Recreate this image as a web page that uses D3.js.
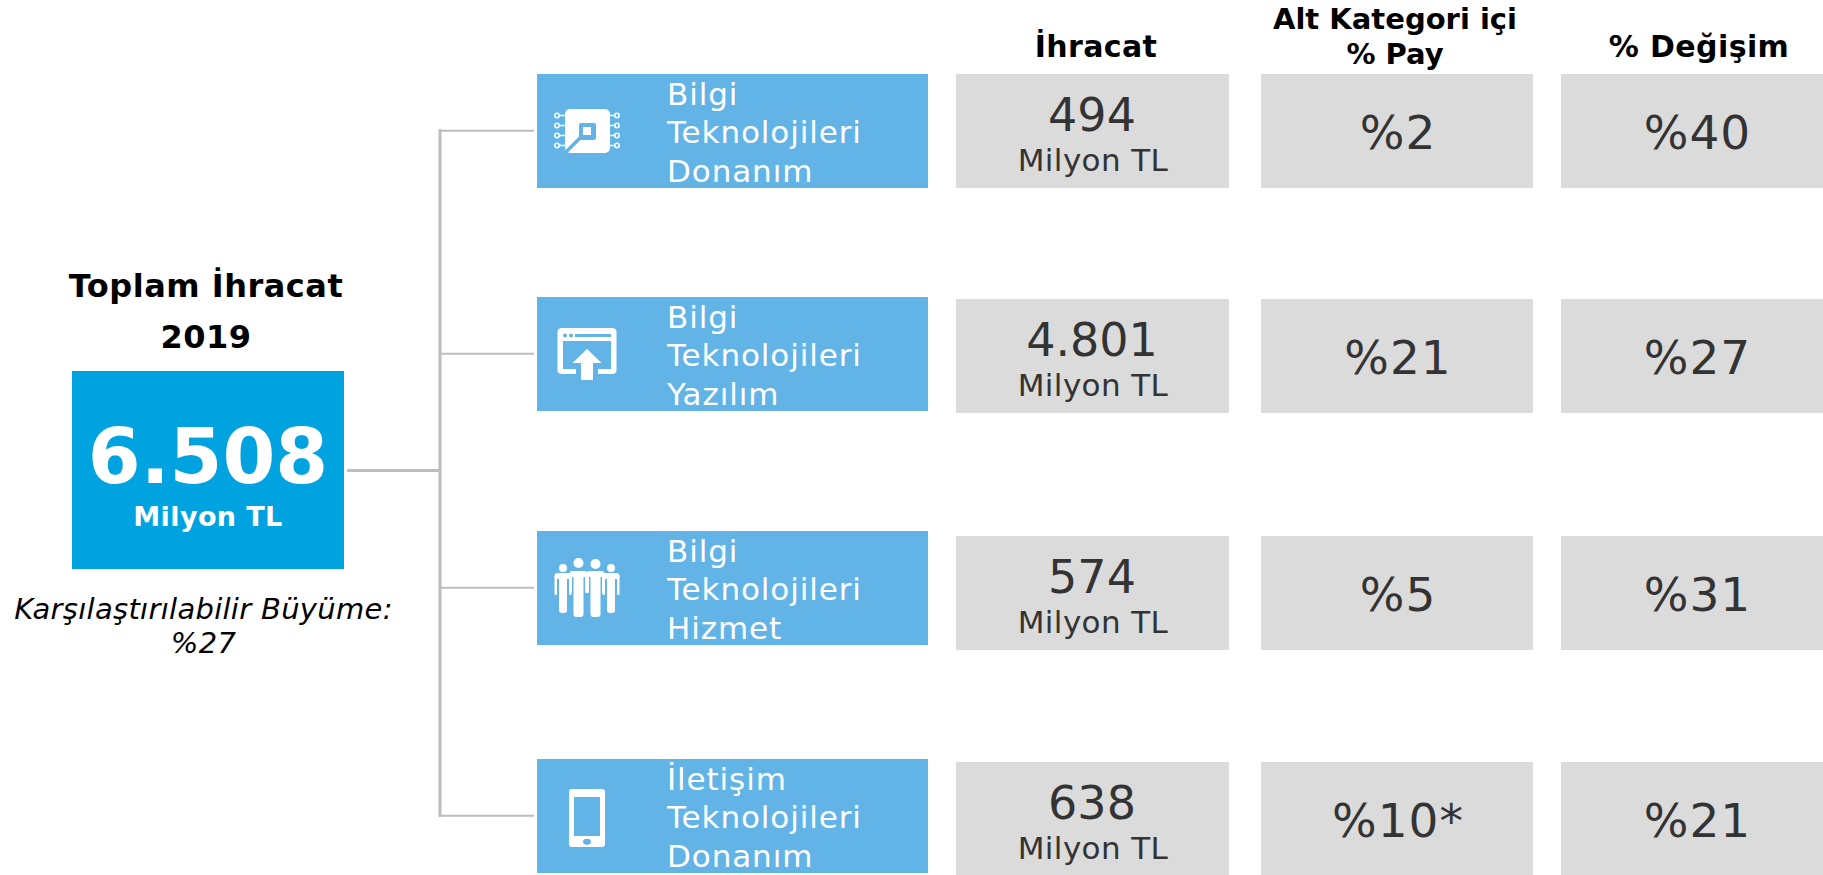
<!DOCTYPE html>
<html>
<head>
<meta charset="utf-8">
<script src="https://cdn.jsdelivr.net/npm/d3@7"></script>
<style>
  html, body { margin: 0; padding: 0; background: #fff; }
  svg { display: block; }
  text { font-family: "DejaVu Sans", sans-serif; }
</style>
</head>
<body>
<svg id="chart" width="1823" height="875"></svg>
<script>
// Values
var categories = [
  ["Bilgi", "Teknolojileri", "Donanım"],
  ["Bilgi", "Teknolojileri", "Yazılım"],
  ["Bilgi", "Teknolojileri", "Hizmet"],
  ["İletişim", "Teknolojileri", "Donanım"]
];
var exportValues = [494, 4801, 574, 638];
var shares = [2, 21, 5, 10];
var shareNotes = ["", "", "", "*"];
var changes = [40, 27, 31, 21];
var columnTitles = [["İhracat"], ["Alt Kategori içi", "% Pay"], ["% Değişim"]];
var icons = ["chip", "upload", "people", "phone"];

var totalValue = 6508;
var totalTitle = ["Toplam İhracat", "2019"];
var unit = "Milyon TL";
var growthNote = ["Karşılaştırılabilir Büyüme:", "%27"];

var trFormat = d3.formatLocale({ decimal: ",", thousands: ".", grouping: [3], currency: ["", " TL"] }).format(",d");

// Placement
var catX = 537, catW = 391, catH = 114,
  grayX = [956, 1261, 1561],
  grayW = [273, 272, 262],
  grayH = 114,
  catTop = [74, 297, 531, 759],
  grayTop = [74, 299, 536, 762],
  lineX = 440;

var svg = d3.select("#chart");
var lineColor = "#bdbdbd", blue = "#63b4e6", total = "#00a3e0", gray = "#dbdbdb", dark = "#333333";

// Connector lines
svg.append("line")
  .attr("x1", lineX).attr("x2", lineX)
  .attr("y1", catTop[0] + 55).attr("y2", catTop[3] + 58)
  .attr("stroke", lineColor).attr("stroke-width", 3);
svg.append("line")
  .attr("x1", 347).attr("x2", lineX)
  .attr("y1", 470.5).attr("y2", 470.5)
  .attr("stroke", lineColor).attr("stroke-width", 3);
svg.append("g").selectAll("line")
  .data(catTop)
  .enter().append("line")
  .attr("x1", lineX).attr("x2", 534)
  .attr("y1", function(d) { return d + 56.7; })
  .attr("y2", function(d) { return d + 56.7; })
  .attr("stroke", lineColor).attr("stroke-width", 2);

// Total box on the left
svg.append("g").selectAll("text")
  .data(totalTitle)
  .enter().append("text")
  .attr("x", 206)
  .attr("y", function(d, i) { return 297 + i*51; })
  .attr("text-anchor", "middle")
  .attr("font-size", 32).attr("font-weight", "bold").attr("fill", "#000")
  .attr("letter-spacing", 0.5)
  .text(function(d) { return d; });

svg.append("rect")
  .attr("x", 72).attr("y", 371).attr("width", 272).attr("height", 198)
  .attr("fill", total);
svg.append("text")
  .attr("x", 208).attr("y", 483)
  .attr("text-anchor", "middle")
  .attr("font-size", 76).attr("font-weight", "bold").attr("fill", "#fff")
  .text(trFormat(totalValue));
svg.append("text")
  .attr("x", 208).attr("y", 526)
  .attr("text-anchor", "middle")
  .attr("font-size", 27).attr("font-weight", "bold").attr("fill", "#fff")
  .attr("letter-spacing", 0.4)
  .text(unit);
svg.append("g").selectAll("text")
  .data(growthNote)
  .enter().append("text")
  .attr("x", 203.5)
  .attr("y", function(d, i) { return 619 + i*34; })
  .attr("text-anchor", "middle")
  .attr("font-size", 29).attr("font-style", "italic").attr("fill", "#000")
  .attr("letter-spacing", 0.3)
  .text(function(d) { return d; });

// Category boxes
var cat = svg.append("g").selectAll("g")
  .data(categories)
  .enter().append("g")
  .attr("transform", function(d, i) { return "translate(" + catX + "," + catTop[i] + ")"; });
cat.append("rect")
  .attr("width", catW).attr("height", catH)
  .attr("fill", blue);
cat.selectAll("text")
  .data(function(d) { return d; })
  .enter().append("text")
  .attr("x", 130)
  .attr("y", function(d, i) { return 30.5 + i*38.7; })
  .attr("font-size", 31).attr("fill", "#fff")
  .attr("letter-spacing", 0.9)
  .text(function(d) { return d; });

// White icons, centred on 0,0 of each group
var icon = cat.append("g")
  .attr("transform", "translate(50,57)")
  .attr("fill", "#fff");

function drawChip(g) {
  g.append("rect").attr("x", -22).attr("y", -22).attr("width", 45).attr("height", 44).attr("rx", 5);
  g.append("rect").attr("x", -8).attr("y", -8).attr("width", 17).attr("height", 17).attr("rx", 2).attr("fill", blue);
  g.append("rect").attr("x", -4).attr("y", -4).attr("width", 8).attr("height", 8);
  g.append("line").attr("x1", -7).attr("y1", 7).attr("x2", -24).attr("y2", 24)
    .attr("stroke", blue).attr("stroke-width", 3.5);
  [-15.5, -5.5, 4.5, 14.5].forEach(function(y) {
    [-1, 1].forEach(function(s) {
      g.append("line").attr("x1", s*22).attr("x2", s*28).attr("y1", y).attr("y2", y)
        .attr("stroke", "#fff").attr("stroke-width", 1.5);
      g.append("circle").attr("cx", s*30).attr("cy", y).attr("r", 2.2)
        .attr("fill", blue).attr("stroke", "#fff").attr("stroke-width", 1.5);
    });
  });
}

function drawUpload(g) {
  g.append("path")
    .attr("d", "M-25,-26H25Q29.5,-26 29.5,-22V16Q29.5,20 25,20H11V15H24V-13H-24V15H-11V20H-25Q-29.5,20 -29.5,16V-22Q-29.5,-26 -25,-26Z");
  g.append("path").attr("d", "M0,-5L14.5,9H6V26H-6V9H-14.5Z");
  g.append("rect").attr("x", -12).attr("y", -20).attr("width", 36).attr("height", 3).attr("fill", blue);
  g.append("circle").attr("cx", -22).attr("cy", -18.5).attr("r", 2).attr("fill", blue);
  g.append("circle").attr("cx", -16).attr("cy", -18.5).attr("r", 2).attr("fill", blue);
}

function drawPeople(g) {
  var person = function(x, headY, r, top, feet, w, legW) {
    g.append("circle").attr("cx", x).attr("cy", headY).attr("r", r);
    g.append("rect").attr("x", x - w/2).attr("y", top).attr("width", w).attr("height", 6).attr("rx", 3);
    g.append("rect").attr("x", x - w/2).attr("y", top + 2).attr("width", 2.5).attr("height", 20).attr("rx", 1);
    g.append("rect").attr("x", x + w/2 - 2.5).attr("y", top + 2).attr("width", 2.5).attr("height", 20).attr("rx", 1);
    g.append("rect").attr("x", x - legW/2).attr("y", top + 2).attr("width", legW).attr("height", feet - top - 2).attr("rx", 3);
  };
  person(-24, -20, 4, -15, 25, 17, 8);
  person(24, -20, 4, -15, 25, 17, 8);
  person(-8.5, -25, 5, -17, 29, 18, 10);
  person(8.5, -24, 5, -17, 29, 18, 10);
}

function drawPhone(g) {
  g.append("path")
    .attr("fill-rule", "evenodd")
    .attr("d", "M-15,-27H15Q18,-27 18,-24V28Q18,31 15,31H-15Q-18,31 -18,28V-24Q-18,-27 -15,-27ZM-13,-19V20H13V-19Z");
  g.append("ellipse").attr("cx", 0).attr("cy", 25.7).attr("rx", 4).attr("ry", 3).attr("fill", blue);
}

var iconDraw = { chip: drawChip, upload: drawUpload, people: drawPeople, phone: drawPhone };
icon.each(function(d, i) { iconDraw[icons[i]](d3.select(this)); });

// Column titles
svg.append("g").selectAll("g")
  .data(columnTitles)
  .enter().append("g")
  .each(function(d, c) {
    var cx = [1096, 1395, 1699][c];
    d3.select(this).selectAll("text")
      .data(d)
      .enter().append("text")
      .attr("x", cx)
      .attr("y", function(t, i) { return (d.length > 1 ? 29 : 57) + i*35; })
      .attr("text-anchor", "middle")
      .attr("font-size", d.length > 1 ? 29 : 30).attr("font-weight", "bold").attr("fill", "#000")
      .attr("letter-spacing", d.length > 1 ? 0 : 0.4)
      .text(function(t) { return t; });
  });

// Grey value cells
function cells(col, draw) {
  var g = svg.append("g").selectAll("g")
    .data(categories)
    .enter().append("g")
    .attr("transform", function(d, i) { return "translate(" + grayX[col] + "," + grayTop[i] + ")"; });
  g.append("rect").attr("width", grayW[col]).attr("height", grayH).attr("fill", gray);
  draw(g);
}

cells(0, function(g) {
  g.append("text")
    .attr("x", 136).attr("y", 56.5)
    .attr("text-anchor", "middle").attr("font-size", 46).attr("fill", dark)
    .text(function(d, i) { return trFormat(exportValues[i]); });
  g.append("text")
    .attr("x", 137).attr("y", 97)
    .attr("text-anchor", "middle").attr("font-size", 31).attr("fill", dark)
    .attr("letter-spacing", 0.4)
    .text(unit);
});
cells(1, function(g) {
  g.append("text")
    .attr("x", 137).attr("y", 75)
    .attr("text-anchor", "middle").attr("font-size", 47).attr("fill", dark)
    .attr("letter-spacing", 1)
    .text(function(d, i) { return "%" + shares[i] + shareNotes[i]; });
});
cells(2, function(g) {
  g.append("text")
    .attr("x", 136.5).attr("y", 75)
    .attr("text-anchor", "middle").attr("font-size", 47).attr("fill", dark)
    .attr("letter-spacing", 1)
    .text(function(d, i) { return "%" + changes[i]; });
});
</script>
</body>
</html>
